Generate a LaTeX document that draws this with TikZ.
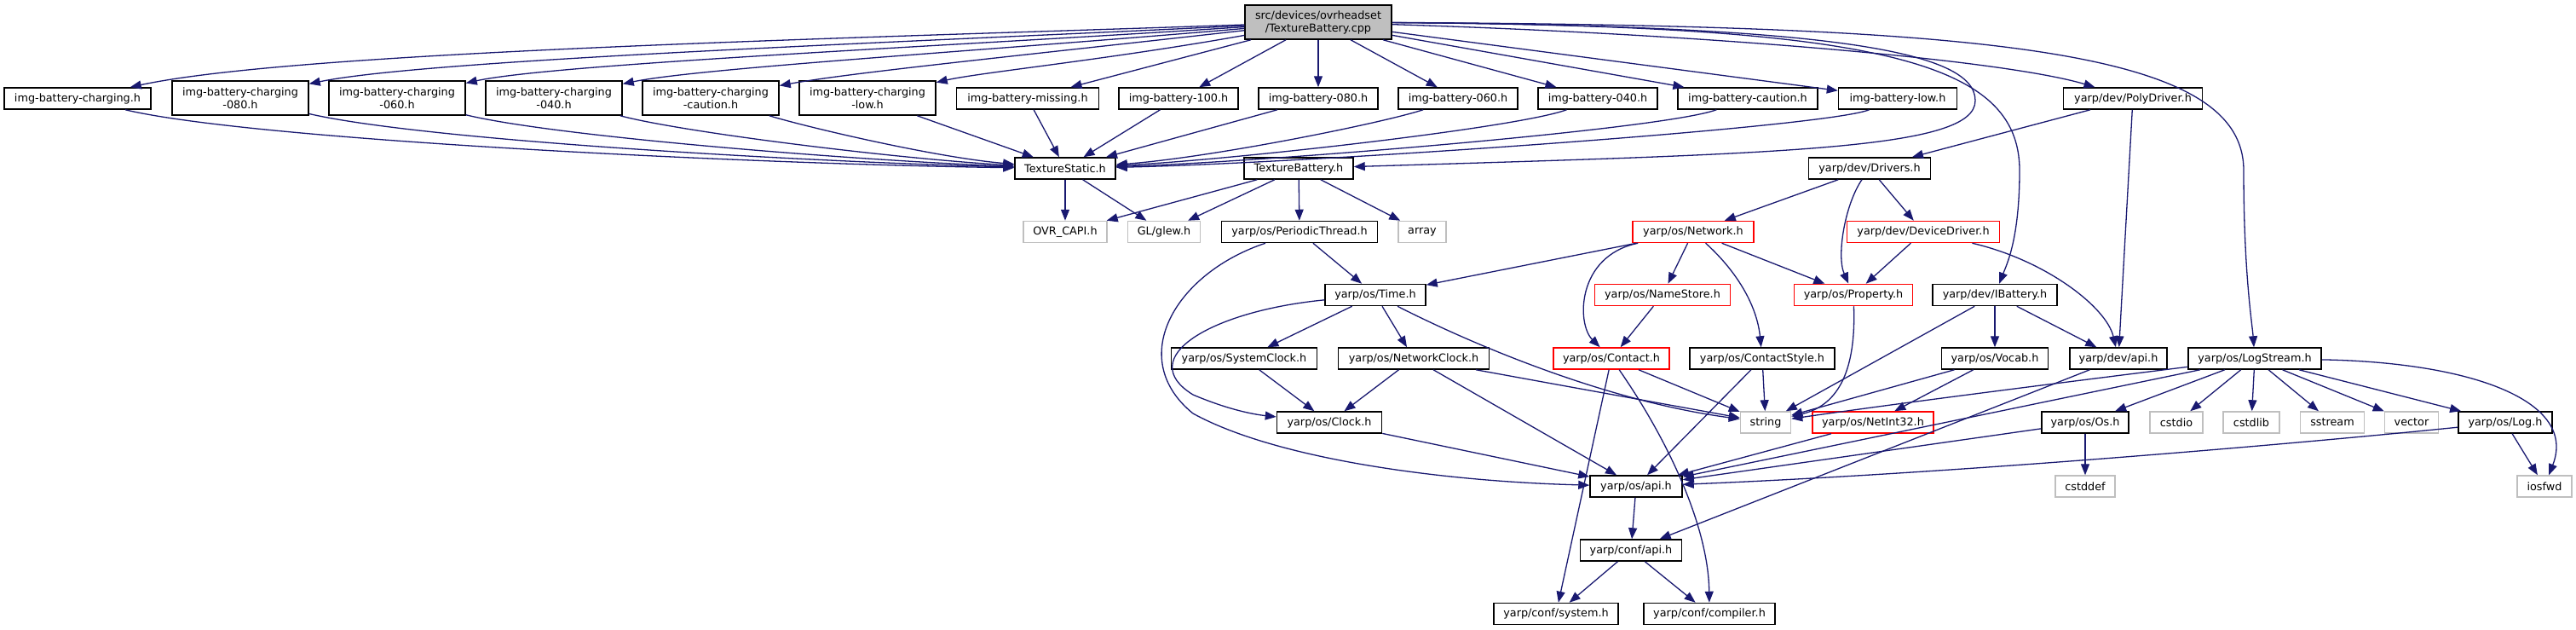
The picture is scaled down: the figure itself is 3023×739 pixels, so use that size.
\documentclass[tikz,border=0pt]{standalone}
\usepackage{fontspec}
\setmainfont{DejaVu Sans}
\usetikzlibrary{arrows.meta}
\definecolor{edgec}{HTML}{191970}
\definecolor{grayb}{HTML}{BFBFBF}
\tikzset{
 nb/.style={draw=black, line width=1.5pt, minimum height=25pt, inner sep=0pt, align=center, font=\fontsize{12.8}{15}\selectfont},
 ng/.style={nb, draw=grayb},
 nr/.style={nb, draw=red},
 two/.style={minimum height=40pt},
 edge/.style={draw=edgec, line width=1.3pt, -{Triangle[length=13pt,width=10pt]}},
}
\begin{document}
\begin{tikzpicture}[x=1pt,y=-1pt]
\useasboundingbox (0,0) rectangle (3023,739);
% row 1
\node[nb, fill=grayb, two, minimum width=172pt] (root) at (1547,26) {src/devices/ovrheadset\\/TextureBattery.cpp};
% row 2
\node[nb, minimum width=172pt] (ch) at (91,115.5) {img-battery-charging.h};
\node[nb, two, minimum width=160pt] (c80) at (282,115) {img-battery-charging\\-080.h};
\node[nb, two, minimum width=160pt] (c60) at (466,115) {img-battery-charging\\-060.h};
\node[nb, two, minimum width=160pt] (c40) at (650,115) {img-battery-charging\\-040.h};
\node[nb, two, minimum width=160pt] (ccau) at (834,115) {img-battery-charging\\-caution.h};
\node[nb, two, minimum width=160pt] (clow) at (1018,115) {img-battery-charging\\-low.h};
\node[nb, minimum width=167pt] (miss) at (1206,115.5) {img-battery-missing.h};
\node[nb, minimum width=140pt] (b100) at (1383,115.5) {img-battery-100.h};
\node[nb, minimum width=140pt] (b80) at (1547,115.5) {img-battery-080.h};
\node[nb, minimum width=140pt] (b60) at (1711,115.5) {img-battery-060.h};
\node[nb, minimum width=140pt] (b40) at (1875,115.5) {img-battery-040.h};
\node[nb, minimum width=164pt] (bcau) at (2051,115.5) {img-battery-caution.h};
\node[nb, minimum width=139pt] (blow) at (2227,115.5) {img-battery-low.h};
\node[nb, minimum width=163pt] (poly) at (2503,115.5) {yarp/dev/PolyDriver.h};
% row 3
\node[nb, minimum width=118pt] (TS) at (1250,197.5) {TextureStatic.h};
\node[nb, minimum width=128pt] (TB) at (1524,197.5) {TextureBattery.h};
\node[nb, minimum width=143pt] (drv) at (2194,197.5) {yarp/dev/Drivers.h};
% row 4
\node[ng, minimum width=98pt] (ovr) at (1250,272) {OVR\_CAPI.h};
\node[ng, minimum width=85pt] (glew) at (1366,272) {GL/glew.h};
\node[nb, minimum width=183pt] (pt) at (1525,272) {yarp/os/PeriodicThread.h};
\node[ng, minimum width=56pt] (arr) at (1669,272) {array};
\node[nr, minimum width=142pt] (net) at (1987,272) {yarp/os/Network.h};
\node[nr, minimum width=179pt] (ddrv) at (2257,272) {yarp/dev/DeviceDriver.h};
% row 5
\node[nb, minimum width=118pt] (time) at (1614,346) {yarp/os/Time.h};
\node[nr, minimum width=159pt] (nstore) at (1951,346) {yarp/os/NameStore.h};
\node[nr, minimum width=139pt] (prop) at (2175,346) {yarp/os/Property.h};
\node[nb, minimum width=146pt] (ibat) at (2341,346) {yarp/dev/IBattery.h};
% row 6
\node[nb, minimum width=171pt] (sclk) at (1460,420.5) {yarp/os/SystemClock.h};
\node[nb, minimum width=177pt] (nclk) at (1659,420.5) {yarp/os/NetworkClock.h};
\node[nr, minimum width=136pt] (cont) at (1891,420.5) {yarp/os/Contact.h};
\node[nb, minimum width=170pt] (cstyle) at (2068,420.5) {yarp/os/ContactStyle.h};
\node[nb, minimum width=125pt] (vocab) at (2341,420.5) {yarp/os/Vocab.h};
\node[nb, minimum width=114pt] (devapi) at (2486,420.5) {yarp/dev/api.h};
\node[nb, minimum width=156pt] (lstream) at (2646,420.5) {yarp/os/LogStream.h};
% row 7
\node[nb, minimum width=123pt] (clock) at (1560,495.5) {yarp/os/Clock.h};
\node[ng, minimum width=59pt] (str) at (2072,495.5) {string};
\node[nr, minimum width=142pt] (ni32) at (2198,495.5) {yarp/os/NetInt32.h};
\node[nb, minimum width=102pt] (os) at (2447,495.5) {yarp/os/Os.h};
\node[ng, minimum width=62pt] (cstdio) at (2554,495.5) {cstdio};
\node[ng, minimum width=66pt] (cstdlib) at (2642,495.5) {cstdlib};
\node[ng, minimum width=75pt] (sstream) at (2737,495.5) {sstream};
\node[ng, minimum width=63pt] (vector) at (2830,495.5) {vector};
\node[nb, minimum width=110pt] (log) at (2940,495.5) {yarp/os/Log.h};
% row 8
\node[nb, minimum width=108pt] (osapi) at (1920,570.5) {yarp/os/api.h};
\node[ng, minimum width=70pt] (cstddef) at (2447,570.5) {cstddef};
\node[ng, minimum width=64pt] (iosfwd) at (2986,570.5) {iosfwd};
% row 9
\node[nb, minimum width=119pt] (capi) at (1914,645.5) {yarp/conf/api.h};
% row 10
\node[nb, minimum width=146pt] (csys) at (1826,720) {yarp/conf/system.h};
\node[nb, minimum width=154pt] (ccomp) at (2006,720) {yarp/conf/compiler.h};

% root edges
\draw[edge] (root) .. controls (1000,45) and (350,60) .. (ch);
\draw[edge] (root) .. controls (1050,50) and (500,70) .. (c80);
\draw[edge] (root) .. controls (1100,55) and (650,75) .. (c60);
\draw[edge] (root) .. controls (1150,60) and (820,80) .. (c40);
\draw[edge] (root) .. controls (1200,65) and (1000,85) .. (ccau);
\draw[edge] (root) .. controls (1300,70) and (1150,85) .. (clow);
\draw[edge] (root) -- (miss);
\draw[edge] (root) -- (b100);
\draw[edge] (root) -- (b80);
\draw[edge] (root) -- (b60);
\draw[edge] (root) -- (b40);
\draw[edge] (root) -- (bcau);
\draw[edge] (root) -- (blow);
\draw[edge] (root) .. controls (2000,40) and (2350,70) .. (poly);
\draw[edge] (root) .. controls (2150,30) and (2318,60) .. (2318,118) .. controls (2318,175) and (2100,180) .. (TB);
\draw[edge] (root) .. controls (2200,30) and (2370,70) .. (2370,200) .. controls (2370,280) and (2355,310) .. (ibat);
\draw[edge] (root) .. controls (2350,30) and (2633,60) .. (2633,200) .. controls (2633,320) and (2643,380) .. (lstream);
% row 2 -> TextureStatic
\draw[edge] (ch) .. controls (300,165) and (900,193) .. (TS);
\draw[edge] (c80) .. controls (500,165) and (950,190) .. (TS);
\draw[edge] (c60) .. controls (650,160) and (1000,188) .. (TS);
\draw[edge] (c40) .. controls (800,155) and (1050,186) .. (TS);
\draw[edge] (ccau) .. controls (950,150) and (1100,185) .. (TS);
\draw[edge] (clow) -- (TS);
\draw[edge] (miss) -- (TS);
\draw[edge] (b100) -- (TS);
\draw[edge] (b80) -- (TS);
\draw[edge] (b60) .. controls (1620,145) and (1420,185) .. (TS);
\draw[edge] (b40) .. controls (1780,150) and (1450,187) .. (TS);
\draw[edge] (bcau) .. controls (1950,152) and (1480,190) .. (TS);
\draw[edge] (blow) .. controls (2140,150) and (1520,192) .. (TS);
\draw[edge] (poly) -- (drv);
\draw[edge] (poly) -- (devapi);
% row 3
\draw[edge] (TS) -- (ovr);
\draw[edge] (TS) -- (glew);
\draw[edge] (TB) -- (ovr);
\draw[edge] (TB) -- (glew);
\draw[edge] (TB) -- (pt);
\draw[edge] (TB) -- (arr);
\draw[edge] (drv) -- (net);
\draw[edge] (drv) .. controls (2165,240) and (2155,300) .. (prop);
\draw[edge] (drv) -- (ddrv);
% row 4
\draw[edge] (pt) -- (time);
\draw[edge] (pt) .. controls (1380,320) and (1320,420) .. (1400,485) .. controls (1500,540) and (1700,565) .. (osapi);
\draw[edge] (net) -- (time);
\draw[edge] (net) -- (nstore);
\draw[edge] (net) .. controls (1850,300) and (1850,380) .. (cont);
\draw[edge] (net) .. controls (2040,320) and (2062,360) .. (cstyle);
\draw[edge] (net) -- (prop);
\draw[edge] (ddrv) -- (prop);
\draw[edge] (ddrv) .. controls (2400,305) and (2472,360) .. (devapi);
% row 5
\draw[edge] (time) .. controls (1420,365) and (1330,420) .. (1400,463) .. controls (1440,480) and (1470,486) .. (clock);
\draw[edge] (time) -- (sclk);
\draw[edge] (time) -- (nclk);
\draw[edge] (time) .. controls (1720,400) and (1880,470) .. (str);
\draw[edge] (nstore) -- (cont);
\draw[edge] (prop) .. controls (2178,430) and (2160,475) .. (str);
\draw[edge] (ibat) -- (str);
\draw[edge] (ibat) -- (vocab);
\draw[edge] (ibat) -- (devapi);
% row 6
\draw[edge] (sclk) -- (clock);
\draw[edge] (nclk) -- (clock);
\draw[edge] (nclk) -- (osapi);
\draw[edge] (nclk) -- (str);
\draw[edge] (cont) -- (str);
\draw[edge] (cont) -- (csys);
\draw[edge] (cont) .. controls (1960,520) and (2005,620) .. (ccomp);
\draw[edge] (cstyle) -- (str);
\draw[edge] (cstyle) -- (osapi);
\draw[edge] (vocab) -- (str);
\draw[edge] (vocab) -- (ni32);
\draw[edge] (devapi) -- (capi);
\draw[edge] (lstream) .. controls (2450,445) and (2250,470) .. (str);
\draw[edge] (lstream) -- (osapi);
\draw[edge] (lstream) -- (os);
\draw[edge] (lstream) -- (cstdio);
\draw[edge] (lstream) -- (cstdlib);
\draw[edge] (lstream) -- (sstream);
\draw[edge] (lstream) -- (vector);
\draw[edge] (lstream) -- (log);
\draw[edge] (lstream) .. controls (2900,425) and (3025,470) .. (iosfwd);
% row 7
\draw[edge] (clock) -- (osapi);
\draw[edge] (ni32) -- (osapi);
\draw[edge] (os) -- (osapi);
\draw[edge] (os) -- (cstddef);
\draw[edge] (log) .. controls (2700,520) and (2300,555) .. (osapi);
\draw[edge] (log) -- (iosfwd);
% rows 8-9
\draw[edge] (osapi) -- (capi);
\draw[edge] (capi) -- (csys);
\draw[edge] (capi) -- (ccomp);
\end{tikzpicture}
\end{document}
